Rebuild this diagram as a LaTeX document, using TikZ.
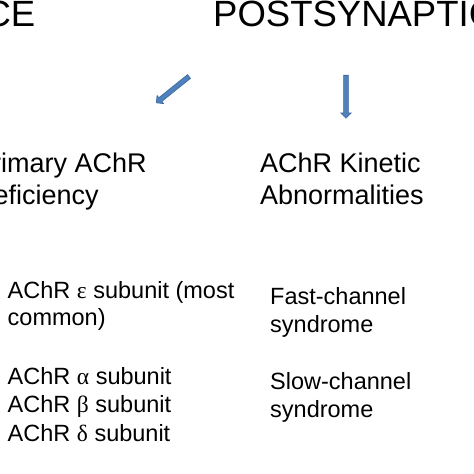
\documentclass[tikz,border=0pt]{standalone}
\usepackage{fontspec}
\setmainfont{Liberation Sans}
\newfontfamily\grk{Liberation Serif}
\usetikzlibrary{shapes.arrows}
\definecolor{arrfill}{HTML}{4F81BD}
\definecolor{arrline}{HTML}{3A679C}
\tikzset{
  big/.style={anchor=base west, inner sep=0pt, font=\fontsize{36.5}{40}\selectfont},
  mid/.style={anchor=base west, inner sep=0pt, font=\fontsize{27}{32}\selectfont},
  small/.style={anchor=base west, inner sep=0pt, font=\fontsize{23.5}{27}\selectfont},
  blockarrow/.style={single arrow, draw=arrline, fill=arrfill, line width=0.6pt,
    inner sep=2.1pt, minimum width=10pt, single arrow head extend=2.8pt,
    single arrow tip angle=90, single arrow head indent=0pt}
}
\begin{document}
\begin{tikzpicture}[x=1pt,y=-1pt]
\useasboundingbox (0,0) rectangle (474,474);
\fill[white] (0,0) rectangle (474,474);
\clip (0,0) rectangle (474,474);
% headings
\node[big, anchor=base east] (pre) at (35.5,26.7) {CE};
\node[big] (post) at (213,26.7) {POSTSYNAPTIC};
% arrows
\node[blockarrow, minimum height=42pt, rotate=218.8] (a1) at (173.6,88.9) {};
\node[blockarrow, minimum height=43pt, rotate=-90] (a2) at (346,95.5) {};
% second level
\node[mid] (prim1) at (-26,172) {Primary AChR};
\node[mid] (prim2) at (-26,204) {Deficiency};
\node[mid] (kin1) at (260,172) {AChR Kinetic};
\node[mid] (kin2) at (260,204) {Abnormalities};
% left list
\node[small] (eps1) at (7.5,298) {AChR {\grk ε} subunit (most};
\node[small] (eps2) at (7.5,325) {common)};
\node[small] (alp) at (7.5,384) {AChR {\grk α} subunit};
\node[small] (bet) at (7.5,412) {AChR {\grk β} subunit};
\node[small] (del) at (7.5,441) {AChR {\grk δ} subunit};
% right list
\node[small] (fast1) at (270,304) {Fast-channel};
\node[small] (fast2) at (270,332) {syndrome};
\node[small] (slow1) at (270,389) {Slow-channel};
\node[small] (slow2) at (270,417) {syndrome};
\end{tikzpicture}
\end{document}
